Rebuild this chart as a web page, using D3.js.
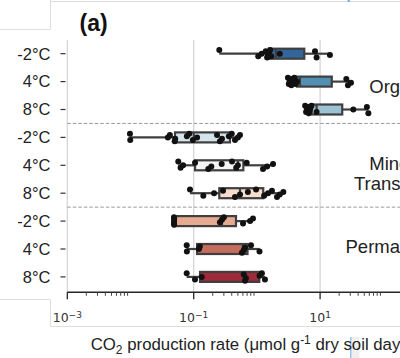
<!DOCTYPE html>
<html>
<head>
<meta charset="utf-8">
<script src="https://cdn.jsdelivr.net/npm/d3@7"></script>
<style>
  html, body { margin: 0; padding: 0; background: #fff; }
  svg { display: block; }
</style>
</head>
<body>
<svg id="chart" width="400" height="358"></svg>
<script>
// Incubation temperatures within each soil layer (top to bottom)
const temps = ["-2°C", "4°C", "8°C"];
const layers = ["Organic", "Mineral", "Permafrost"];
const layerLabelLines = [["Organic"], ["Mineral", "Transitional"], ["Permafrost"]];

// Box statistics per row (CO2 production, µmol g-1 dry soil day-1)
const whiskerLow  = [0.254, 3.1,  5.77, 0.0098, 0.057, 0.0874, 0.0488, 0.0775, 0.0775];
const q1          = [1.55,  4.31, 7.36, 0.0506, 0.105, 0.254,  0.0488, 0.113,  0.126];
const median      = [2.0,   4.8,  8.8,  0.10,   0.50,  0.54,   0.28,   0.60,   0.65];
const q3          = [5.62,  15.3, 22.4, 0.375,  0.61,  1.26,   0.467,  0.71,   1.09];
const whiskerHigh = [14.3,  30.8, 57.9, 0.54,   1.8,   2.62,   0.867,  1.1,    1.34];

// Individual measurements per row
const samples = [
  [0.254, 1.05, 1.19, 1.38, 1.45, 1.5, 1.55, 1.62, 1.68, 2.3, 8.3, 8.8, 14.3],
  [3.1, 3.2, 3.3, 3.4, 3.5, 3.6, 3.75, 3.9, 4.1, 4.3, 26, 27.6, 30.8],
  [5.8, 6.0, 6.2, 6.4, 6.6, 6.8, 7.0, 7.3, 8.8, 33.5, 55, 58],
  [0.0098, 0.0099, 0.039, 0.042, 0.05, 0.051, 0.078, 0.085, 0.097, 0.113, 0.234, 0.26, 0.28, 0.36, 0.4, 0.45, 0.5, 0.54],
  [0.057, 0.062, 0.068, 0.105, 0.17, 0.19, 0.277, 0.404, 0.47, 0.5, 0.69, 1.25, 1.45, 1.8],
  [0.0874, 0.142, 0.21, 0.291, 0.45, 0.54, 0.72, 0.97, 1.3, 1.5, 1.73, 2.08, 2.3, 2.62],
  [0.0488, 0.0488, 0.0489, 0.049, 0.049, 0.26, 0.28, 0.30, 0.603, 0.78, 0.867],
  [0.0775, 0.078, 0.121, 0.125, 0.58, 0.62, 0.648, 0.807, 1.1],
  [0.0775, 0.1048, 0.134, 0.62, 0.648, 0.67, 1.1, 1.2, 1.34]
];

// Axis ticks
const majorTicks = [1e-3, 1e-1, 1e1];
const majorExponents = ["−3", "−1", "1"];

// Fill colours (muted diverging blue → red)
const boxColors = ["#32669b", "#538fb3", "#9cc2d4", "#d5e4ec", "#f4f4f4",
                   "#f6ddce", "#e6aa90", "#c56c5e", "#9f2b3a"];

const rows = d3.range(layers.length * temps.length);
const svg = d3.select("#chart");
const sans = "Liberation Sans, Arial, sans-serif";

const x = d3.scaleLog().domain([1e-3, 1e3]).range([67.3, 67.3 + 6 * 63.2]);
const y = d3.scaleBand().domain(rows).range([39.75, 290.85]);
const cy = r => y(r) + y.bandwidth() / 2;
const plotTop = 40, axisY = 292.3, plotRight = 400;

// thin frame lines around the panel
const frame = svg.append("g").attr("stroke", "#dedede").attr("stroke-width", 1).attr("fill", "none");
frame.append("path").attr("d", "M0,29.5H50.5V0");
frame.append("path").attr("d", "M50.5,1.5H400");
frame.append("path").attr("d", "M0,299.5H50.5V326.5H400");
svg.append("rect").attr("x", 351.5).attr("y", 337).attr("width", 8).attr("height", 21).attr("fill", "#efefef");
svg.append("line").attr("x1", 350.8).attr("x2", 350.8).attr("y1", 337).attr("y2", 358)
  .attr("stroke", "#7fb4e6").attr("stroke-width", 1.2);
svg.append("rect").attr("x", 347.5).attr("y", 0).attr("width", 2.5).attr("height", 2).attr("fill", "#7fb4e6");

// vertical grid at major ticks
svg.append("g").selectAll("line").data(majorTicks).join("line")
  .attr("x1", d => x(d)).attr("x2", d => x(d))
  .attr("y1", plotTop).attr("y2", axisY)
  .attr("stroke", "#d6d6d6").attr("stroke-width", 1.3);

// dashed separators between soil layers
svg.append("g").selectAll("line").data([1, 2]).join("line")
  .attr("x1", x(1e-3)).attr("x2", plotRight)
  .attr("y1", d => y(d * 3)).attr("y2", d => y(d * 3))
  .attr("stroke", "#9a9a9a").attr("stroke-width", 1).attr("stroke-dasharray", "3.5,2");

// boxes
const edge = "#3f3f3f";
const bh = 10;
const boxes = svg.append("g").selectAll("g").data(rows).join("g");
boxes.append("line")
  .attr("x1", r => x(whiskerLow[r])).attr("x2", r => x(q1[r]))
  .attr("y1", cy).attr("y2", cy).attr("stroke", edge).attr("stroke-width", 2.2);
boxes.append("line")
  .attr("x1", r => x(q3[r])).attr("x2", r => x(whiskerHigh[r]))
  .attr("y1", cy).attr("y2", cy).attr("stroke", edge).attr("stroke-width", 2.2);
boxes.append("rect")
  .attr("x", r => x(q1[r])).attr("width", r => x(q3[r]) - x(q1[r]))
  .attr("y", r => cy(r) - bh / 2).attr("height", bh)
  .attr("fill", r => boxColors[r]).attr("stroke", edge).attr("stroke-width", 2.2);
boxes.append("line")
  .attr("x1", r => x(median[r])).attr("x2", r => x(median[r]))
  .attr("y1", r => cy(r) - bh / 2).attr("y2", r => cy(r) + bh / 2)
  .attr("stroke", edge).attr("stroke-width", 2.2);

// individual samples with a small vertical jitter
const pts = rows.flatMap(r => samples[r].map((v, i) => ({ r, v, i })));
svg.append("g").selectAll("circle").data(pts).join("circle")
  .attr("cx", d => x(d.v))
  .attr("cy", d => cy(d.r) + ((d.i * 5) % 7 - 3) * 1.25)
  .attr("r", 3)
  .attr("fill", "#111");

// x axis
const ax = svg.append("g");
ax.append("line").attr("x1", x(1e-3)).attr("x2", plotRight).attr("y1", axisY).attr("y2", axisY)
  .attr("stroke", "#262626").attr("stroke-width", 1.4);
ax.selectAll(".major").data(majorTicks).join("line").attr("class", "major")
  .attr("x1", d => x(d)).attr("x2", d => x(d)).attr("y1", axisY).attr("y2", axisY + 7)
  .attr("stroke", "#262626").attr("stroke-width", 1.3);
const minors = majorTicks.flatMap(m => d3.range(2, 10).map(k => k * m));
ax.selectAll(".minor").data(minors).join("line").attr("class", "minor")
  .attr("x1", d => x(d)).attr("x2", d => x(d)).attr("y1", axisY).attr("y2", axisY + 3.5)
  .attr("stroke", "#444").attr("stroke-width", 1);
const tl = ax.selectAll(".tl").data(majorTicks).join("text").attr("class", "tl")
  .attr("x", d => x(d)).attr("y", 321.5)
  .attr("text-anchor", "middle")
  .attr("font-family", "DejaVu Sans").attr("font-size", 12.5).attr("fill", "#333");
tl.append("tspan").text("10");
tl.append("tspan").attr("dy", -4).attr("font-size", 9).text((d, i) => majorExponents[i]);

// y axis labels and ticks
const yax = svg.append("g");
yax.selectAll("line").data(rows).join("line")
  .attr("x1", 60.5).attr("x2", 65.5).attr("y1", cy).attr("y2", cy)
  .attr("stroke", "#333").attr("stroke-width", 1.2);
yax.selectAll("text").data(rows).join("text")
  .attr("x", 50.5).attr("y", r => cy(r) + 5.8)
  .attr("text-anchor", "end")
  .attr("font-family", sans).attr("font-size", 16.5).attr("fill", "#222")
  .text(r => temps[r % temps.length]);

// layer names at the right
const lineStarts = [[369.3], [369.3, 354], [345.5]];
const lineBase = [93, 170, 253.3];
layers.forEach((name, li) => {
  layerLabelLines[li].forEach((txt, k) => {
    svg.append("text")
      .attr("x", lineStarts[li][k]).attr("y", lineBase[li] + k * 20)
      .attr("font-family", sans).attr("font-size", 18.5).attr("fill", "#222")
      .text(txt);
  });
});

// panel letter
svg.append("text").attr("x", 79.5).attr("y", 31)
  .attr("font-family", sans).attr("font-size", 23).attr("font-weight", "bold")
  .attr("fill", "#111").text("(a)");

// x axis title
const xt = svg.append("text").attr("x", 90.7).attr("y", 350)
  .attr("font-family", sans).attr("font-size", 16.8).attr("fill", "#222");
xt.append("tspan").text("CO");
xt.append("tspan").attr("dy", 4).attr("font-size", 12).text("2");
xt.append("tspan").attr("dy", -4).text(" production rate (μmol g");
xt.append("tspan").attr("dy", -6).attr("font-size", 12).text("-1");
xt.append("tspan").attr("dy", 6).text(" dry soil day");
xt.append("tspan").attr("dy", -6).attr("font-size", 12).text("-1");
xt.append("tspan").attr("dy", 6).text(")");
</script>
</body>
</html>
